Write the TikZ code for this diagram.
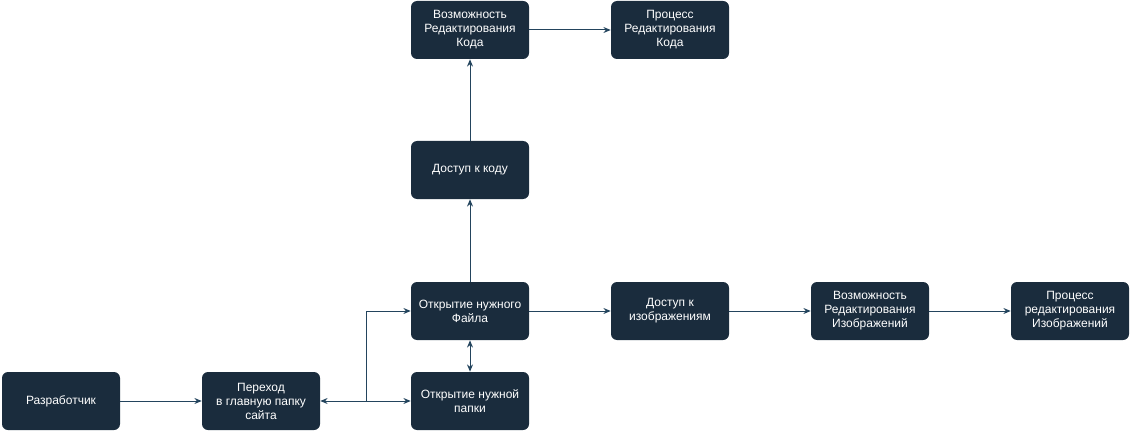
\documentclass[tikz,border=0pt]{standalone}
\usepackage{fontspec}
\setmainfont{Liberation Sans}
\usetikzlibrary{arrows.meta}
\definecolor{boxfill}{HTML}{1A2C3D}
\definecolor{linecol}{HTML}{23445D}
\tikzset{
  stepbox/.style={draw=none,fill=boxfill,rounded corners=4.5pt,
    minimum width=88.5pt,minimum height=43.5pt,inner sep=1pt,
    text=white,align=center,font=\fontsize{9}{10.5}\selectfont},
  flow/.style={draw=linecol,line width=0.75pt,-{Stealth[length=5.5pt,width=4.5pt]}},
  bothflow/.style={flow,{Stealth[length=5.5pt,width=4.5pt]}-{Stealth[length=5.5pt,width=4.5pt]}}
}
\begin{document}
\begin{tikzpicture}[x=0.75pt,y=-0.75pt]
  \useasboundingbox (0,0) rectangle (1131,431);
  % left column
  \node[stepbox] (dev) at (61,401) {Разработчик};
  \node[stepbox] (root) at (261,401) {Переход\\в главную папку\\сайта};
  % middle column
  \node[stepbox] (folder) at (470,401) {Открытие нужной\\папки};
  \node[stepbox] (file) at (470,311) {Открытие нужного\\Файла};
  \node[stepbox] (code) at (470,170) {Доступ к коду};
  \node[stepbox] (editcode) at (470,30) {Возможность\\Редактирования\\Кода};
  \node[stepbox] (proccode) at (670,30) {Процесс\\Редактирования\\Кода};
  % image branch
  \node[stepbox] (img) at (670,311) {Доступ к\\изображениям};
  \node[stepbox] (editimg) at (870,311) {Возможность\\Редактирования\\Изображений};
  \node[stepbox] (procimg) at (1070,311) {Процесс\\редактирования\\Изображений};
  \coordinate (split) at (366,401);

  \draw[flow] (dev) -- (root);
  \draw[bothflow] (root) -- (split) |- (file);
  \draw[flow] (split) -- (folder);
  \draw[bothflow] (file) -- (folder);
  \draw[flow] (file) -- (code);
  \draw[flow] (code) -- (editcode);
  \draw[flow] (editcode) -- (proccode);
  \draw[flow] (file) -- (img);
  \draw[flow] (img) -- (editimg);
  \draw[flow] (editimg) -- (procimg);
\end{tikzpicture}
\end{document}
